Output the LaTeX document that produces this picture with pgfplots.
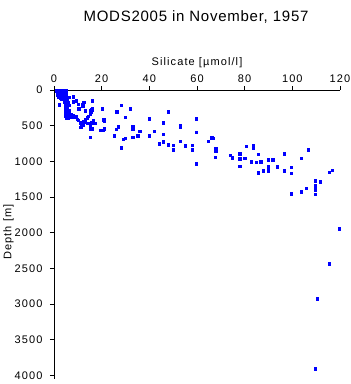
\documentclass[border=0pt]{standalone}
\usepackage{pgfplots}
\pgfplotsset{compat=1.18}
\usepackage{fontspec}
\setmainfont{Liberation Sans}
\newfontfamily\lab[LetterSpace=10]{Liberation Sans}
\newfontfamily\tit[LetterSpace=5]{Liberation Sans}
\begin{document}
\begin{tikzpicture}
\useasboundingbox (0pt,0pt) rectangle (351pt,-384pt);
\begin{axis}[
  at={(54pt,-90pt)}, anchor=north west,
  scale only axis, width=286pt, height=289pt,
  xmin=0, xmax=120, ymin=0, ymax=4050,
  y dir=reverse,
  axis x line=top, axis y line=left,
  axis line style={line width=0.8pt, -},
  tick style={line width=0.8pt, black},
  tick align=outside, major tick length=4pt,
  xtick={0,20,...,120}, ytick={0,500,...,4000},
  /pgf/number format/assume math mode=true,
  /pgf/number format/set thousands separator={},
  tick label style={font=\lab\fontsize{11}{13}\selectfont},
  yticklabel style={xshift=-4pt},
  label style={font=\lab\fontsize{11}{13}\selectfont},
  xlabel={Silicate [\textmu mol/l]},
  clip=false,
]
\addplot[only marks, mark=square*, mark size=1.2pt, mark options={fill=blue, draw=blue, line width=0.2pt}] table {
x y
0.8 0
1.3 0
2.0 0
2.6 0
3.2 0
3.8 0
4.5 0
5.0 5
1.0 10
1.7 15
2.4 10
3.0 20
3.6 15
4.3 20
1.2 30
2.0 35
2.8 30
3.5 40
4.2 35
5.0 40
1.5 55
2.3 50
3.2 60
4.0 55
4.8 60
1.2 75
2.0 80
2.8 75
3.6 85
4.4 80
5.2 85
1.6 100
2.5 105
3.4 100
4.2 110
5.0 105
5.8 100
3.0 130
4.0 125
4.8 135
5.6 130
2.2 205
4.2 160
5.0 165
5.8 170
4.6 195
5.4 200
6.2 210
4.8 240
5.6 245
4.6 280
5.4 285
6.2 290
4.8 320
5.6 325
6.4 330
7.2 335
4.9 360
5.7 370
6.5 365
7.3 360
8.1 352
9.2 366
5.2 395
6.0 390
6.8 380
7.6 375
8.4 370
6.4 103
8.1 94
8.1 164
9.2 150
10.2 197
10.4 258
12.0 200
12.4 170
13.1 280
12.0 225
16.1 150
15.7 275
15.1 291
16.1 258
20.1 258
13.0 295
15.4 300
14.4 366
13.8 385
15.1 328
13.0 408
9.7 408
10.2 422
13.1 412
11.0 455
12.4 445
11.2 460
15.7 455
16.3 430
17.1 460
14.1 460
12.3 492
11.2 516
11.6 492
15.1 502
16.1 446
15.1 541
16.1 541
19.3 562
20.4 562
20.7 422
21.1 432
21.1 539
15.1 657
20.8 415
28.1 215
26.2 300
32.0 258
29.9 380
27.0 510
26.1 546
25.2 637
29.1 687
29.9 672
28.2 806
33.0 510
33.0 540
33.0 664
35.0 637
36.0 575
40.0 398
40.0 637
42.1 575
44.0 750
45.9 454
45.9 614
45.9 721
48.0 305
48.0 764
50.0 773
50.0 834
53.0 496
53.0 524
53.0 715
55.0 778
58.0 769
58.0 834
59.7 398
59.7 588
59.7 1030
64.7 715
66.2 666
66.8 671
67.8 820
67.8 848
67.7 938
74.0 910
74.8 946
77.8 890
77.8 960
77.8 1069
79.9 956
80.7 788
83.6 769
83.6 806
85.7 900
82.8 1003
84.8 1013
86.7 1003
85.7 1158
87.8 1129
89.8 975
89.8 1069
89.8 1101
89.8 1135
91.8 975
93.7 1073
96.6 890
96.6 1132
99.6 1083
99.6 1167
99.6 1449
106.7 834
103.8 952
109.6 1270
111.6 1284
115.5 1149
116.8 1121
109.6 1340
109.6 1397
109.6 1458
105.7 1374
103.8 1425
119.7 1945
115.5 2430
110.5 2923
109.6 3905
};
\end{axis}
\node[font=\tit\fontsize{15}{17}\selectfont, anchor=base] at (196pt,-21pt) {MODS2005 in November, 1957};
\node[font=\lab\fontsize{11}{13}\selectfont, rotate=90, anchor=center] at (8.5pt,-232pt) {Depth [m]};
\end{tikzpicture}
\end{document}
